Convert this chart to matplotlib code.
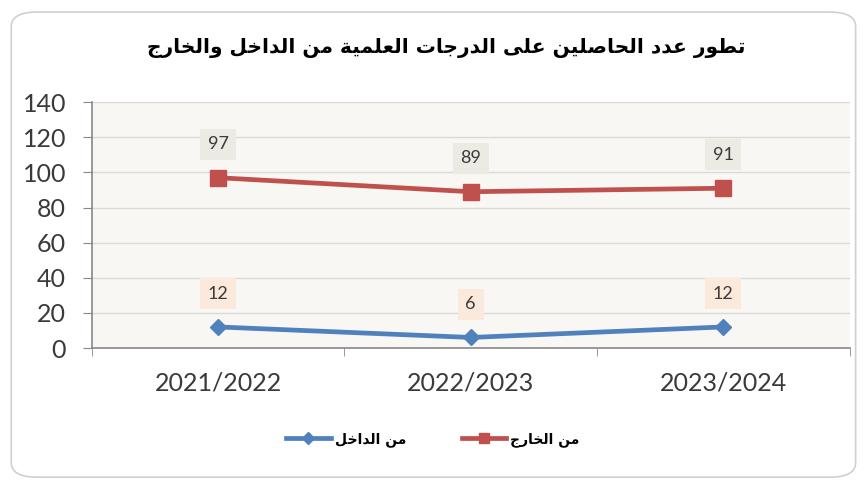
import matplotlib
matplotlib.use("Agg")
import matplotlib.pyplot as plt
from matplotlib.patches import FancyBboxPatch

# data
years = ["2021/2022", "2022/2023", "2023/2024"]
inside = [12, 6, 12]      # من الداخل
outside = [97, 89, 91]    # من الخارج
yticks = [0, 20, 40, 60, 80, 100, 120, 140]

TITLE = "تطور عدد الحاصلين على الدرجات العلمية من الداخل والخارج"
LBL_IN = "من الداخل"
LBL_OUT = "من الخارج"

# minimal arabic shaping: (isolated, final, initial, medial); 2-tuples are right-joining only
FORMS = {
    "ا": (0xFE8D, 0xFE8E), "د": (0xFEA9, 0xFEAA), "ر": (0xFEAD, 0xFEAE),
    "و": (0xFEED, 0xFEEE), "ة": (0xFE93, 0xFE94), "ى": (0xFEEF, 0xFEF0),
    "ت": (0xFE95, 0xFE96, 0xFE97, 0xFE98), "ج": (0xFE9D, 0xFE9E, 0xFE9F, 0xFEA0),
    "ح": (0xFEA1, 0xFEA2, 0xFEA3, 0xFEA4), "خ": (0xFEA5, 0xFEA6, 0xFEA7, 0xFEA8),
    "ص": (0xFEB9, 0xFEBA, 0xFEBB, 0xFEBC), "ط": (0xFEC1, 0xFEC2, 0xFEC3, 0xFEC4),
    "ع": (0xFEC9, 0xFECA, 0xFECB, 0xFECC), "ل": (0xFEDD, 0xFEDE, 0xFEDF, 0xFEE0),
    "م": (0xFEE1, 0xFEE2, 0xFEE3, 0xFEE4), "ن": (0xFEE5, 0xFEE6, 0xFEE7, 0xFEE8),
    "ي": (0xFEF1, 0xFEF2, 0xFEF3, 0xFEF4),
}


def shape(s):
    out = []
    for i, c in enumerate(s):
        f = FORMS.get(c)
        if f is None:
            out.append(c)
            continue
        prev = s[i - 1] if i > 0 else ""
        nxt = s[i + 1] if i + 1 < len(s) else ""
        jp = prev in FORMS and len(FORMS[prev]) == 4
        jn = len(f) == 4 and nxt in FORMS
        if jp and jn:
            out.append(chr(f[3]))
        elif jn:
            out.append(chr(f[2]))
        elif jp:
            out.append(chr(f[1]))
        else:
            out.append(chr(f[0]))
    return "".join(out)[::-1]


NUM_FONT = ["Lato", "DejaVu Sans"]
AR_FONT = ["DejaVu Sans"]
TXT = "#3a3a3a"

fig = plt.figure(figsize=(8.66, 4.82), dpi=100)
fig.patch.set_facecolor("white")
fig.patches.append(FancyBboxPatch((0.013, 0.01), 0.975, 0.965,
                                  boxstyle="round,pad=0,rounding_size=0.03",
                                  transform=fig.transFigure, facecolor="none",
                                  edgecolor="#d0d0d0", linewidth=1.2, zorder=-1))

ax = fig.add_axes([0.106, 0.278, 0.875, 0.51])
ax.set_facecolor("#f9f7f3")
x = list(range(len(years)))

ax.plot(x, outside, color="#c0504d", lw=3.4, marker="s", ms=11,
        label=shape(LBL_OUT), zorder=3)
ax.plot(x, inside, color="#4f81bd", lw=3.4, marker="D", ms=8.5,
        label=shape(LBL_IN), zorder=3)

for xi, v in zip(x, outside):
    ax.annotate(str(v), (xi, v), xytext=(0, 24), textcoords="offset points",
                ha="center", va="center", fontsize=13, color=TXT,
                family=NUM_FONT,
                bbox=dict(boxstyle="square,pad=0.42", fc="#ebebe4", ec="none"))
for xi, v in zip(x, inside):
    ax.annotate(str(v), (xi, v), xytext=(0, 24), textcoords="offset points",
                ha="center", va="center", fontsize=13, color=TXT,
                family=NUM_FONT,
                bbox=dict(boxstyle="square,pad=0.42", fc="#fbeadb", ec="none"))

ax.set_xlim(-0.5, len(years) - 0.5)
ax.set_ylim(0, 140)
ax.set_yticks(yticks)
ax.set_yticklabels([str(t) for t in yticks], fontsize=18, family=NUM_FONT,
                   color=TXT)
ax.set_xticks(x)
ax.set_xticklabels(years, fontsize=18, family=NUM_FONT, color=TXT)
ax.set_xticks([i - 0.5 for i in range(len(years) + 1)], minor=True)
ax.tick_params(axis="x", which="major", length=0, pad=17)
ax.tick_params(axis="x", which="minor", length=6, color="#888888")
ax.tick_params(axis="y", length=6.5, color="#888888", pad=12)
ax.grid(axis="y", color="#d9d9d9", lw=1)
ax.set_axisbelow(True)
for sp in ["top", "right"]:
    ax.spines[sp].set_visible(False)
for sp in ["left", "bottom"]:
    ax.spines[sp].set_color("#888888")
    ax.spines[sp].set_linewidth(1.2)

fig.text(0.515, 0.9, shape(TITLE), ha="center", va="center", fontsize=14.5,
         fontweight="bold", family=AR_FONT)

h, l = ax.get_legend_handles_labels()
fig.legend(h[::-1], l[::-1], loc="center", bbox_to_anchor=(0.5, 0.088), ncol=2,
           frameon=False, prop={"family": AR_FONT, "weight": "bold", "size": 10},
           handlelength=3.2, columnspacing=4, handletextpad=0.3, markerscale=0.7)

fig.savefig("out.png", dpi=100)
